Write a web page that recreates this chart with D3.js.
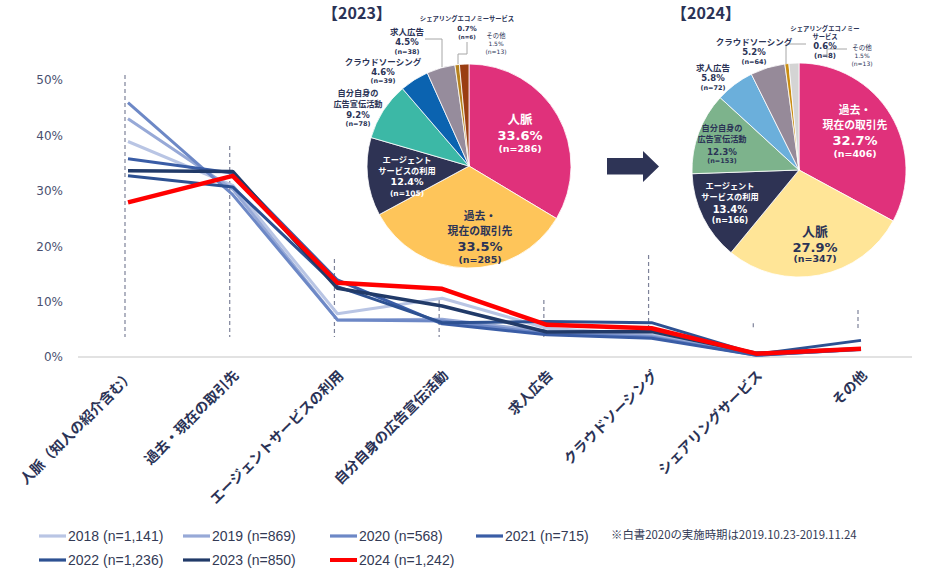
<!DOCTYPE html>
<html><head><meta charset="utf-8">
<script src="https://cdn.jsdelivr.net/npm/d3@7"></script>
<style>
html,body{margin:0;padding:0;background:#fff;}
svg{display:block;}
</style></head>
<body>
<svg id="chart" width="928" height="569"></svg>
<script>
// ---------- DATA ----------
const categories = ["人脈（知人の紹介含む）", "過去・現在の取引先", "エージェントサービスの利用", "自分自身の広告宣伝活動", "求人広告", "クラウドソーシング", "シェアリングサービス", "その他"];
const seriesNames = ["2018 (n=1,141)", "2019 (n=869)", "2020 (n=568)", "2021 (n=715)", "2022 (n=1,236)", "2023 (n=850)", "2024 (n=1,242)"];
const s2018 = [38.9, 31.0, 7.8, 10.6, 5.2, 4.0, 0.5, 1.5];
const s2019 = [43.0, 30.3, 6.7, 6.8, 4.6, 3.8, 0.4, 1.3];
const s2020 = [45.9, 29.3, 6.7, 6.5, 4.2, 3.6, 0.3, 1.4];
const s2021 = [35.8, 33.2, 13.9, 6.0, 4.0, 3.4, 0.3, 1.4];
const s2022 = [32.7, 30.7, 12.7, 6.2, 6.4, 6.2, 0.5, 3.0];
const s2023 = [33.6, 33.5, 12.4, 9.2, 4.5, 4.6, 0.7, 1.5];
const s2024 = [27.9, 32.7, 13.4, 12.3, 5.8, 5.2, 0.6, 1.5];
const yTicks = [0, 10, 20, 30, 40, 50];
// dashed guide extents (in % units)
const guideTop = [50.9, 38.1, 17.7, 10.3, 10.3, 18.4, 6.1, 8.5];
const guideBottom = [3.6, 3.6, 3.6, 3.6, 3.6, 4.9, 4.9, 4.9];

const pie2023Labels = [["人脈"], ["過去・", "現在の取引先"], ["エージェント", "サービスの利用"], ["自分自身の", "広告宣伝活動"], ["クラウドソーシング"], ["求人広告"], ["シェアリングエコノミーサービス"], ["その他"]];
const pie2023Pct = [33.6, 33.5, 12.4, 9.2, 4.6, 4.5, 0.7, 1.5];
const pie2023N = [286, 285, 105, 78, 39, 38, 6, 13];

const pie2024Labels = [["過去・", "現在の取引先"], ["人脈"], ["エージェント", "サービスの利用"], ["自分自身の", "広告宣伝活動"], ["求人広告"], ["クラウドソーシング"], ["シェアリングエコノミー", "サービス"], ["その他"]];
const pie2024Pct = [32.7, 27.9, 13.4, 12.3, 5.8, 5.2, 0.6, 1.5];
const pie2024N = [406, 347, 166, 153, 72, 64, 8, 13];

const note = "※白書2020の実施時期は2019.10.23-2019.11.24";

// ---------- STYLE ----------
const seriesData = [s2018, s2019, s2020, s2021, s2022, s2023, s2024];
const seriesColors = ["#b9c5e4", "#97a9d7", "#6d88c6", "#3a5da6", "#2d5192", "#213a68", "#ff0000"];
const seriesWidths = [3, 3, 3, 3, 3, 3.5, 4.5];
const navy = "#2b3356";
const JP = "'Noto Sans CJK JP', 'Noto Sans', sans-serif";
const NUM = "'DejaVu Sans', Verdana, sans-serif";

const svg = d3.select("#chart");
svg.append("rect").attr("width", 928).attr("height", 569).attr("fill", "#fff");

const x = d3.scalePoint().domain(categories).range([128, 861]);
const y = d3.scaleLinear().domain([0, 50]).range([357, 80]);

// baseline
svg.append("line").attr("x1", 78).attr("x2", 912).attr("y1", y(0)).attr("y2", y(0))
  .attr("stroke", "#d9d9d9").attr("stroke-width", 1.5);

// dashed guides
svg.append("g").selectAll("line").data(categories).join("line")
  .attr("x1", d => x(d) - 3).attr("x2", d => x(d) - 3)
  .attr("y1", (d, i) => y(guideTop[i])).attr("y2", (d, i) => y(guideBottom[i]))
  .attr("stroke", "#7d8299").attr("stroke-width", 1.2).attr("stroke-dasharray", "4,3");

// y axis
const yAxis = svg.append("g").attr("transform", "translate(63,0)")
  .call(d3.axisLeft(y).tickValues(yTicks).tickSize(0).tickPadding(0).tickFormat(d => d + "%"));
yAxis.select(".domain").remove();
yAxis.selectAll("text").attr("font-family", NUM).attr("font-size", 12).attr("fill", "#4a5070");

// x axis labels
const xAxis = svg.append("g").attr("transform", "translate(0,372)")
  .call(d3.axisBottom(x).tickSize(0));
xAxis.select(".domain").remove();
xAxis.selectAll("text")
  .attr("x", 0).attr("y", 0).attr("dy", "0.35em")
  .attr("transform", "translate(3,1) rotate(-45)")
  .attr("text-anchor", "end")
  .attr("font-family", JP).attr("font-weight", 700).attr("font-size", 14).attr("fill", navy);

// lines
const line = d3.line().x((d, i) => x(categories[i])).y(d => y(d));
svg.append("g").selectAll("path").data(seriesData).join("path")
  .attr("d", d => line(d))
  .attr("fill", "none")
  .attr("stroke", (d, i) => seriesColors[i])
  .attr("stroke-width", (d, i) => seriesWidths[i])
  .attr("stroke-linejoin", "round");

// legend
const legendPos = [[68, 536], [212, 536], [359, 536], [505, 536], [68, 560], [212, 560], [359, 560]];
const lg = svg.append("g").selectAll("g").data(seriesNames).join("g")
  .attr("transform", (d, i) => `translate(${legendPos[i][0]},${legendPos[i][1]})`);
lg.append("line").attr("x1", -29).attr("x2", -2).attr("y1", 0).attr("y2", 0)
  .attr("stroke", (d, i) => seriesColors[i]).attr("stroke-width", (d, i) => i === 6 ? 4 : 3.2);
lg.append("text").text(d => d).attr("x", 0).attr("y", 0).attr("dy", "0.35em")
  .attr("font-family", "'Liberation Sans', Arial, sans-serif").attr("font-size", 14).attr("fill", "#333a55");
svg.append("text").text(note).attr("x", 611).attr("y", 535).attr("dy", "0.35em")
  .attr("font-family", JP).attr("font-size", 11.4).attr("fill", "#333a55");

// ---------- PIES ----------
function drawPie(cx, cy, r, pct, colors, labels, ns, layout, leaders, title, titleX) {
  const g = svg.append("g");
  const arcs = d3.pie().sort(null).value(d => d)(pct);
  const arc = d3.arc().innerRadius(0).outerRadius(r);
  g.append("g").attr("transform", `translate(${cx},${cy})`)
    .selectAll("path").data(arcs).join("path")
    .attr("d", arc).attr("fill", (d, i) => colors[i])
    .attr("stroke", "#fff").attr("stroke-width", 0.8);
  // leaders
  g.selectAll("polyline").data(leaders).join("polyline")
    .attr("points", d => d.map(p => p.join(",")).join(" "))
    .attr("fill", "none").attr("stroke", "#a6a6a6").attr("stroke-width", 1);
  // labels
  labels.forEach((names, i) => {
    const L = layout[i];
    const lines = names.map(t => ({ t, fam: JP }))
      .concat([{ t: pct[i].toFixed(1) + "%", fam: NUM }, { t: "(n=" + ns[i] + ")", fam: NUM }]);
    lines.forEach((ln, j) => {
      g.append("text").text(ln.t)
        .attr("x", L.x).attr("y", L.y[j]).attr("dy", "0.36em")
        .attr("text-anchor", "middle")
        .attr("font-family", ln.fam).attr("font-weight", L.w || 700)
        .attr("font-size", L.fs[j]).attr("fill", L.fill || navy);
    });
  });
  g.append("text").text(title).attr("x", titleX).attr("y", 13).attr("dy", "0.36em")
    .attr("text-anchor", "middle").attr("font-family", JP).attr("font-weight", 700)
    .attr("font-size", 16).attr("fill", navy);
}

const colors2023 = ["#e0317b", "#fec55a", "#2e3354", "#3cb8a6", "#0b63b0", "#968c9c", "#b5811d", "#9a3d12"];
const layout2023 = [
  { x: 520, y: [119, 135, 149], fs: [12.5, 13, 9.5], fill: "#fff" },
  { x: 480, y: [216, 231, 246, 260], fs: [10.8, 10.8, 13, 9.5] },
  { x: 407, y: [160, 171, 182, 193], fs: [8.2, 8.2, 9.5, 7.5], fill: "#fff" },
  { x: 358, y: [93, 104, 115, 124], fs: [8.2, 8.2, 8.5, 6.5] },
  { x: 383, y: [62, 72, 81], fs: [8.5, 8.5, 6.5] },
  { x: 407, y: [32, 42, 52], fs: [8.5, 8.5, 6.5] },
  { x: 467, y: [19, 28, 37], fs: [6.3, 7, 5.5] },
  { x: 496, y: [36, 44, 52], fs: [6.3, 6, 6], w: 400 }
];
drawPie(469, 166, 102, pie2023Pct, colors2023, pie2023Labels, pie2023N, layout2023,
  [[[425, 39], [442, 39], [442, 67]], [[467, 42], [467, 54], [458, 54], [458, 64]]], "【2023】", 357);

const colors2024 = ["#e0317b", "#ffe597", "#2e3354", "#7db38c", "#6bafdb", "#968a99", "#c98d12", "#d4d4d4"];
const layout2024 = [
  { x: 855, y: [110, 125, 140, 154], fs: [10.8, 10.8, 13, 9.5], fill: "#fff" },
  { x: 815, y: [231, 247, 259], fs: [13, 13, 9.5] },
  { x: 730, y: [186, 197, 209, 220], fs: [8.2, 8.2, 10, 8], fill: "#fff" },
  { x: 722, y: [128, 139, 152, 161], fs: [8.2, 8.2, 8.7, 6.5] },
  { x: 713, y: [68, 78, 88], fs: [8.5, 8.5, 6.5] },
  { x: 754, y: [42, 52, 62], fs: [8.5, 8.5, 6.5] },
  { x: 825, y: [29, 37, 46, 55], fs: [6.3, 6.3, 8.5, 7] },
  { x: 862, y: [48, 56, 64], fs: [6.5, 6, 6], w: 400 }
];
drawPie(799, 170, 107, pie2024Pct, colors2024, pie2024Labels, pie2024N, layout2024,
  [[[806, 44], [786, 44], [786, 64]], [[847, 49], [827, 49], [827, 58]]], "【2024】", 706);

// arrow
svg.append("polygon")
  .attr("points", "607,158 643,158 643,151 659,166.5 643,182 643,174.5 607,174.5")
  .attr("fill", "#2e3456");
</script>
</body></html>
